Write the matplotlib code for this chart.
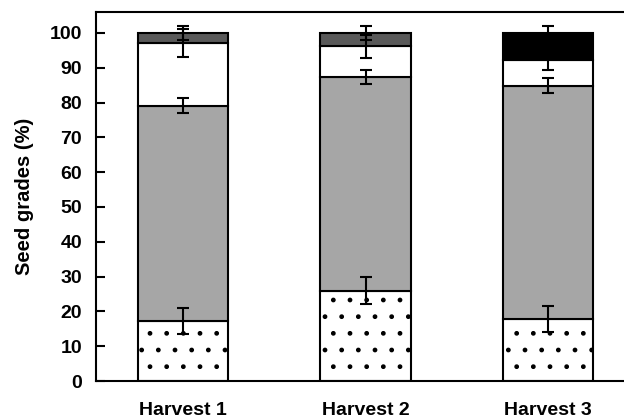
import matplotlib
matplotlib.use("Agg")
import matplotlib.pyplot as plt
import numpy as np

plt.rcParams['font.family'] = ['Liberation Sans', 'DejaVu Sans']
plt.rcParams['hatch.linewidth'] = 1.0
plt.rcParams['hatch.color'] = 'black'

categories = ["Harvest 1", "Harvest 2", "Harvest 3"]

# Seed grade fractions (%) stacked from bottom to top
grade_dotted = [17.2, 25.9, 17.8]
grade_gray = [61.9, 61.3, 67.0]
grade_white = [17.9, 8.9, 7.4]
grade_top = [3.0, 3.9, 7.8]

# Error (±) drawn at the cumulative top of each segment
err_dotted = [3.8, 3.9, 3.8]
err_gray = [2.1, 2.0, 2.2]
err_white = [4.0, 3.3, 2.8]
err_top = [2.0, 2.0, 2.1]

top_colors = ["#595959", "#595959", "#000000"]

fig = plt.figure(figsize=(6.24, 4.2), dpi=100)
ax = fig.add_axes([96 / 624, 1 - 381 / 420, 1 - 96 / 624, (381 - 12) / 420])

x = np.arange(len(categories))
width = 0.495
edge = dict(edgecolor='black', linewidth=1.5)

bottoms = np.zeros(len(categories))
layers = [
    (grade_dotted, dict(color='white', hatch='.'), err_dotted),
    (grade_gray, dict(color='#a6a6a6'), err_gray),
    (grade_white, dict(color='white'), err_white),
    (grade_top, dict(color=top_colors), err_top),
]
tops = []
for vals, style, errs in layers:
    vals = np.array(vals)
    ax.bar(x, vals, width, bottom=bottoms, zorder=2, **style, **edge)
    bottoms = bottoms + vals
    tops.append((bottoms.copy(), errs))

for ytop, errs in tops:
    ax.errorbar(x, ytop, yerr=errs, fmt='none', ecolor='black',
                elinewidth=1.5, capsize=4.5, capthick=1.5, zorder=3)

ax.set_xlim(-0.477, 2.416)
ax.set_ylim(0, 106)
ax.set_yticks(np.arange(0, 101, 10))
ax.set_xticks(x)
ax.set_xticklabels(categories, fontsize=14, fontweight='bold')
ax.tick_params(axis='y', direction='in', length=6.5, width=1.5, pad=10,
               labelsize=14)
for lab in ax.get_yticklabels():
    lab.set_fontweight('bold')
ax.tick_params(axis='x', length=0, pad=15)

ax.spines['right'].set_visible(False)
for s in ['left', 'top', 'bottom']:
    ax.spines[s].set_linewidth(1.5)

ax.set_ylabel("Seed grades (%)", fontsize=14.5, fontweight='bold', labelpad=11.5)

fig.savefig("out.png", dpi=100)
